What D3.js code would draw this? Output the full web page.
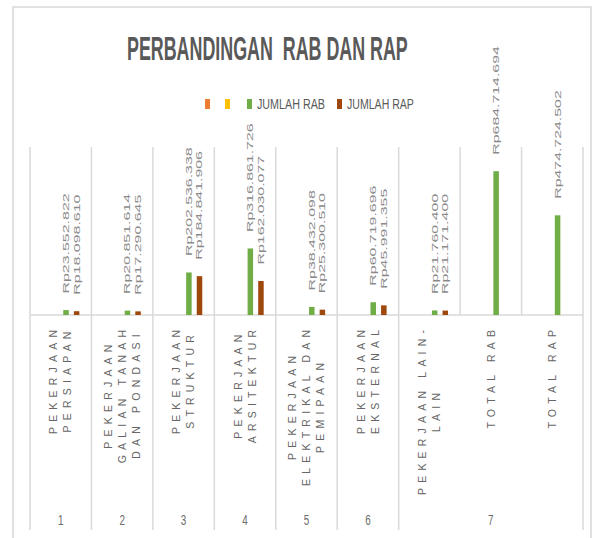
<!DOCTYPE html>
<html><head><meta charset="utf-8">
<script src="https://cdn.jsdelivr.net/npm/d3@7"></script>
<style>body{margin:0;background:#fff} svg{display:block}</style>
</head><body><svg id="c" width="602" height="538"></svg>
<script>
// ---- data ----
const categories = [
  ["PEKERJAAN", "PERSIAPAN"],
  ["PEKERJAAN", "GALIAN TANAH", "DAN PONDASI"],
  ["PEKERJAAN", "STRUKTUR"],
  ["PEKERJAAN", "ARSITEKTUR"],
  ["PEKERJAAN", "ELEKTRIKAL DAN", "PEMIPAAN"],
  ["PEKERJAAN", "EKSTERNAL"],
  ["PEKERJAAN LAIN-", "LAIN"],
  ["TOTAL RAB"],
  ["TOTAL RAP"]
];
const groupLabels = ["1", "2", "3", "4", "5", "6", "7"];
const groupSpans = [1, 1, 1, 1, 1, 1, 3];
const seriesNames = ["", "", "JUMLAH RAB", "JUMLAH RAP"];
const seriesColors = ["#ed7d31", "#ffc000", "#70ad47", "#9e480e"];
const emptySeries1 = [null, null, null, null, null, null, null, null, null];
const emptySeries2 = [null, null, null, null, null, null, null, null, null];
const jumlahRAB = [23552822, 20851614, 202536338, 316861726, 38432098, 60719696, 21760400, 684714694, 474724502];
const jumlahRAP = [18098610, 17290645, 184841906, 162030077, 25300510, 45991355, 21171400, null, null];
const axisMax = 800000000;
const title = "PERBANDINGAN  RAB DAN RAP";

const allSeries = [emptySeries1, emptySeries2, jumlahRAB, jumlahRAP];

const svg = d3.select("#c");
const grid = "#d9d9d9";
const FONT = "Liberation Sans, Arial, sans-serif";

// outer frame
svg.append("path").attr("d", "M13,538 V7 H591 V538")
  .attr("fill", "none").attr("stroke", grid).attr("stroke-width", 1.6);

const x = d3.scaleBand().domain(d3.range(categories.length)).range([30, 583]).padding(0);
const xs = d3.scaleBand().domain(d3.range(allSeries.length)).range([0, x.bandwidth()])
  .paddingInner(0.48).paddingOuter(1.14);
const y = d3.scaleLinear().domain([0, axisMax]).range([315, 147]);

// vertical grid lines in plot area
const bounds = d3.range(categories.length + 1).map(i => i < categories.length ? x(i) : x.range()[1]);
svg.append("g").selectAll("line").data(bounds).join("line")
  .attr("x1", d => d).attr("x2", d => d).attr("y1", 147).attr("y2", y(0))
  .attr("stroke", grid).attr("stroke-width", 1.5);

// lines in label area (group boundaries)
let acc = 0;
const groupBounds = [0];
groupSpans.forEach(s => { acc += s; groupBounds.push(acc); });
const gbx = groupBounds.map(i => i < categories.length ? x(i) : x.range()[1]);
svg.append("g").selectAll("line").data(gbx).join("line")
  .attr("x1", d => d).attr("x2", d => d).attr("y1", y(0)).attr("y2", 530)
  .attr("stroke", grid).attr("stroke-width", 1.5);

// baseline
svg.append("line").attr("x1", x.range()[0]).attr("x2", x.range()[1])
  .attr("y1", y(0)).attr("y2", y(0)).attr("stroke", grid).attr("stroke-width", 1.5);

// bars
const fmt = v => "Rp" + d3.format(",")(v).replace(/,/g, ".");
allSeries.forEach((vals, si) => {
  const g = svg.append("g");
  vals.forEach((v, ci) => {
    if (v == null) return;
    const bx = x(ci) + xs(si);
    g.append("rect").attr("x", bx).attr("width", xs.bandwidth())
      .attr("y", y(v)).attr("height", y(0) - y(v)).attr("fill", seriesColors[si]);
    const cx = bx + xs.bandwidth() / 2;
    const label = fmt(v);
    g.append("text")
      .attr("transform", `translate(${cx},${y(v) - 16.5}) rotate(-90)`)
      .attr("dy", "0.35em")
      .attr("font-family", FONT)
      .attr("font-size", 8.5)
      .attr("fill", "#8a8a8a")
      .attr("textLength", label.length * 8.35)
      .attr("lengthAdjust", "spacingAndGlyphs")
      .text(label);
  });
});

// category labels
const lineGap = 14;
const LS = 5.2;
categories.forEach((lines, ci) => {
  const cx = x(ci) + x.bandwidth() / 2;
  const g = svg.append("g");
  const texts = lines.map((ln) => g.append("text")
    .attr("font-family", FONT)
    .attr("font-size", 10.5)
    .attr("letter-spacing", LS + "px")
    .attr("fill", "#666666")
    .attr("text-anchor", "middle")
    .attr("dy", "0.35em")
    .text(ln));
  const maxLen = d3.max(texts, t => t.node().getComputedTextLength());
  const yc = 330 - LS + maxLen / 2;
  texts.forEach((t, li) => {
    const off = (li - (lines.length - 1) / 2) * lineGap;
    t.attr("transform", `translate(${cx + off},${yc}) rotate(-90)`);
  });
});

// group labels
groupLabels.forEach((gl, gi) => {
  const x0 = gbx[gi], x1 = gbx[gi + 1];
  svg.append("text").attr("x", (x0 + x1) / 2).attr("y", 525)
    .attr("text-anchor", "middle")
    .attr("font-family", FONT)
    .attr("font-size", 14).attr("fill", "#6b6b6b")
    .attr("textLength", 5.5).attr("lengthAdjust", "spacingAndGlyphs")
    .text(gl);
});

// title (condensed by horizontal scaling)
const tt = svg.append("text")
  .attr("font-family", FONT)
  .attr("font-size", 33).attr("font-weight", "bold").attr("fill", "#595959")
  .style("white-space", "pre")
  .text(title);
const tLen = tt.node().getComputedTextLength();
tt.attr("transform", `translate(127,60) scale(${281 / tLen},1)`);

// legend
const legendItems = [
  { sx: 205, tx: null, tw: 0 },
  { sx: 225, tx: null, tw: 0 },
  { sx: 247, tx: 257, tw: 68 },
  { sx: 337, tx: 347, tw: 67 }
];
const lg = svg.append("g");
seriesNames.forEach((name, i) => {
  const it = legendItems[i];
  lg.append("rect").attr("x", it.sx).attr("y", 99).attr("width", 5).attr("height", 10)
    .attr("fill", seriesColors[i]);
  if (name) {
    const t = lg.append("text")
      .attr("font-family", FONT)
      .attr("font-size", 14).attr("fill", "#595959")
      .text(name);
    const L = t.node().getComputedTextLength();
    t.attr("transform", `translate(${it.tx},109) scale(${it.tw / L},1)`);
  }
});
</script>
</body></html>
